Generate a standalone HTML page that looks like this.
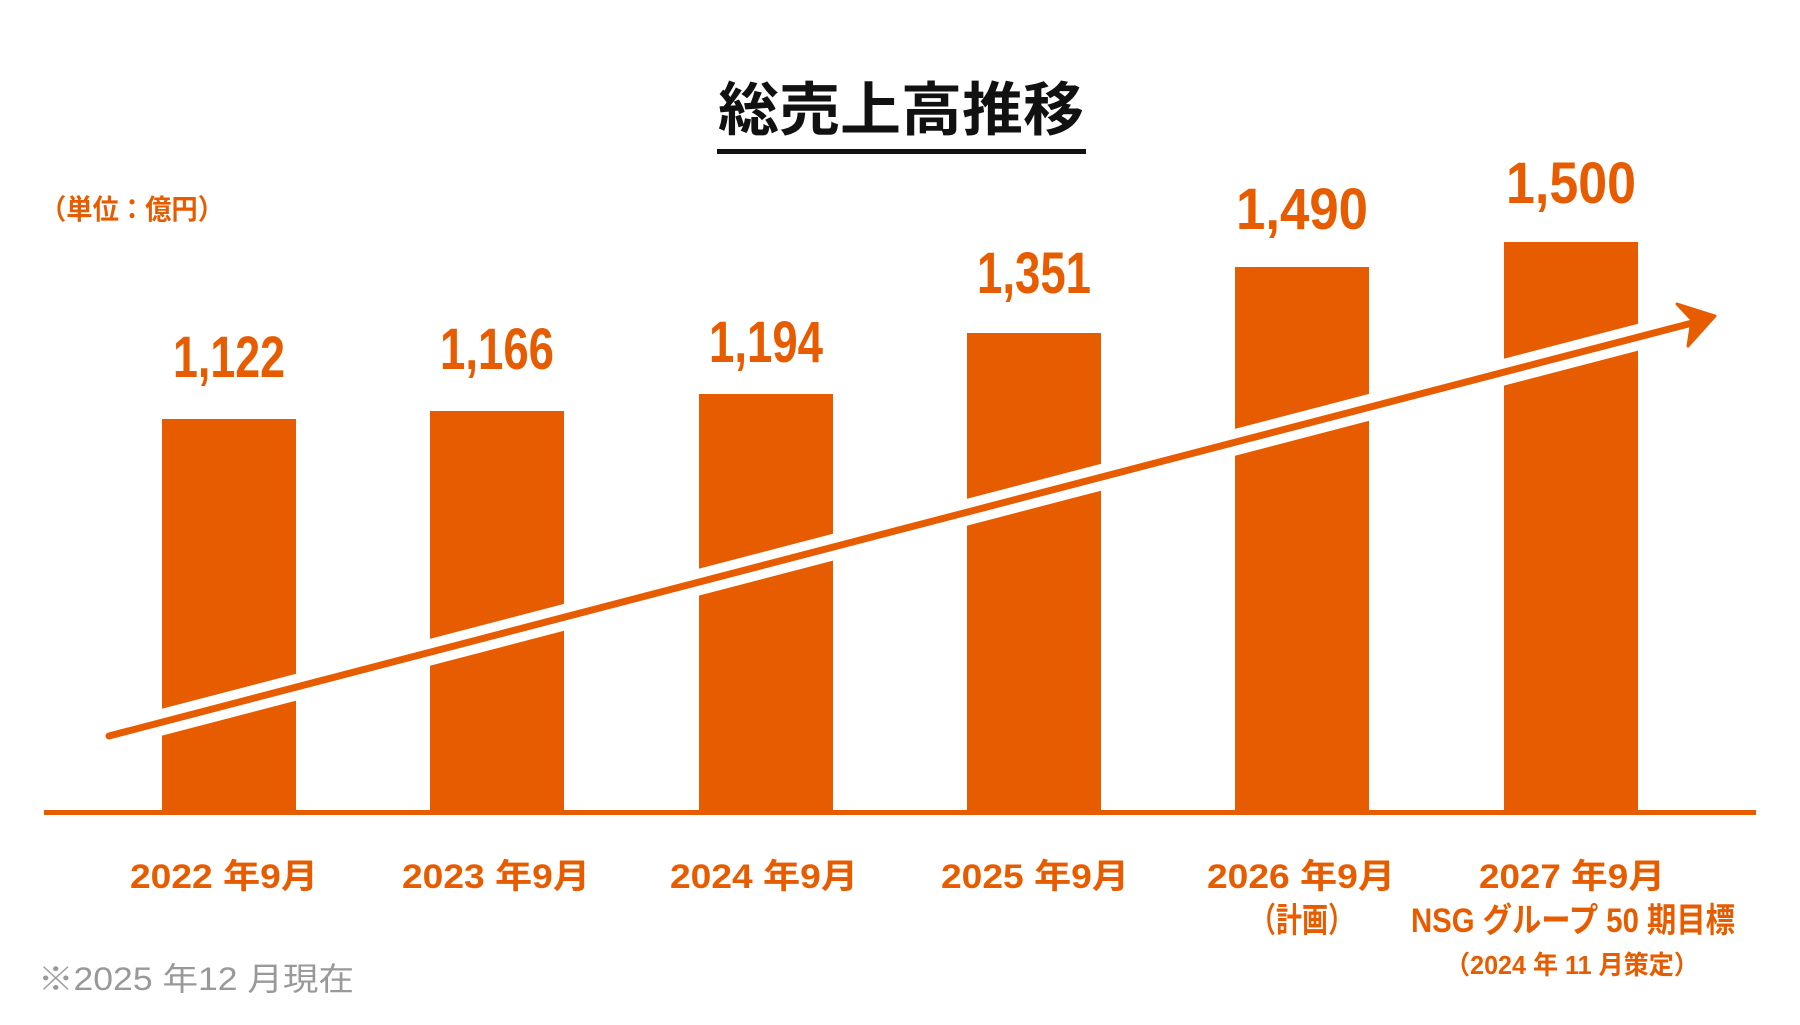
<!DOCTYPE html>
<html><head><meta charset="utf-8"><style>
html,body{margin:0;padding:0;background:#fff;}
svg{display:block;}
text{font-family:"Liberation Sans","Noto Sans CJK JP",sans-serif;}
</style></head><body>
<svg width="1800" height="1025" viewBox="0 0 1800 1025" xmlns="http://www.w3.org/2000/svg">
<text x="901" y="130" text-anchor="middle" font-size="58" font-weight="bold" fill="#111" textLength="366" lengthAdjust="spacingAndGlyphs">総売上高推移</text>
<rect x="717" y="149" width="369" height="5" fill="#111"/>
<text x="40" y="219" font-size="28" font-weight="bold" fill="#E85C00" textLength="184" lengthAdjust="spacingAndGlyphs">（単位：億円）</text>
<g fill="#E85C00">
<rect x="162" y="419" width="134" height="396"/>
<rect x="430" y="411" width="134" height="404"/>
<rect x="699" y="394" width="134" height="421"/>
<rect x="967" y="333" width="134" height="482"/>
<rect x="1235" y="267" width="134" height="548"/>
<rect x="1504" y="242" width="134" height="573"/>
<rect x="44" y="810" width="1712" height="5"/>
</g>
<g font-size="58" font-weight="bold" fill="#E85C00" text-anchor="middle">
<text x="229" y="377" textLength="112" lengthAdjust="spacingAndGlyphs">1,122</text>
<text x="497" y="369" textLength="114" lengthAdjust="spacingAndGlyphs">1,166</text>
<text x="766" y="362" textLength="114" lengthAdjust="spacingAndGlyphs">1,194</text>
<text x="1034" y="293" textLength="114" lengthAdjust="spacingAndGlyphs">1,351</text>
<text x="1302" y="229" textLength="132" lengthAdjust="spacingAndGlyphs">1,490</text>
<text x="1571" y="203" textLength="130" lengthAdjust="spacingAndGlyphs">1,500</text>
</g>
<line x1="109" y1="736" x2="1700" y2="321" stroke="#fff" stroke-width="26"/>
<line x1="109" y1="736" x2="1700" y2="321" stroke="#E85C00" stroke-width="7" stroke-linecap="round"/>
<polygon points="1677,304 1715,316 1688,346 1692,320" fill="#E85C00" stroke="#E85C00" stroke-width="3" stroke-linejoin="round"/>
<g font-size="34" font-weight="bold" fill="#E85C00" text-anchor="middle">
<text x="224" y="888" textLength="188" lengthAdjust="spacingAndGlyphs">2022 年9月</text>
<text x="496" y="888" textLength="188" lengthAdjust="spacingAndGlyphs">2023 年9月</text>
<text x="764" y="888" textLength="188" lengthAdjust="spacingAndGlyphs">2024 年9月</text>
<text x="1035" y="888" textLength="188" lengthAdjust="spacingAndGlyphs">2025 年9月</text>
<text x="1301" y="888" textLength="188" lengthAdjust="spacingAndGlyphs">2026 年9月</text>
<text x="1572" y="888" textLength="186" lengthAdjust="spacingAndGlyphs">2027 年9月</text>
<text x="1302" y="932" textLength="104" lengthAdjust="spacingAndGlyphs">（計画）</text>
<text x="1573" y="932" textLength="324" lengthAdjust="spacingAndGlyphs">NSG グループ 50 期目標</text>
<text x="1572" y="974" font-size="26" textLength="254" lengthAdjust="spacingAndGlyphs">（2024 年 11 月策定）</text>
</g>
<text x="38" y="990" font-size="32" fill="#999" textLength="316" lengthAdjust="spacingAndGlyphs">※2025 年12 月現在</text>
</svg>
</body></html>
